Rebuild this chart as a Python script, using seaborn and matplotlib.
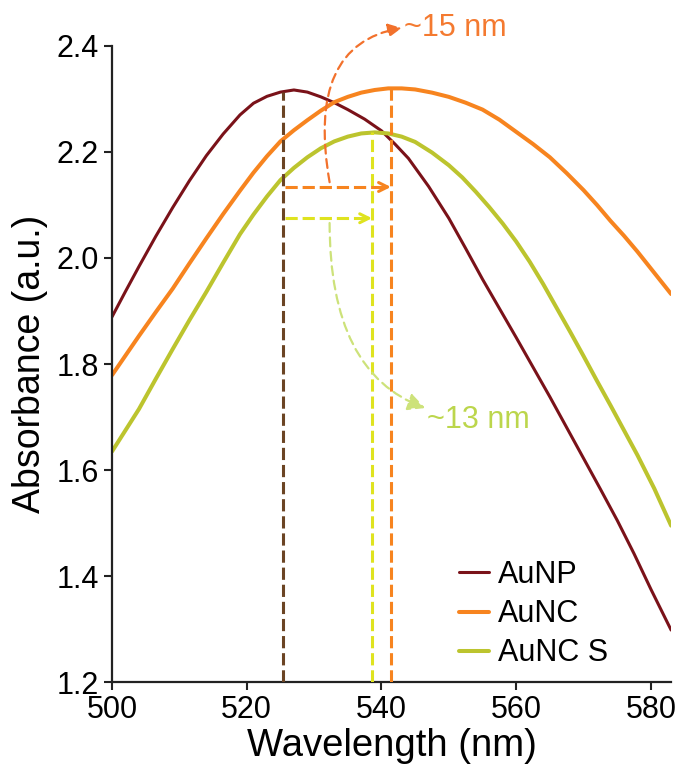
import numpy as np
import pandas as pd
import seaborn as sns
import matplotlib.pyplot as plt

sns.set_style("ticks")
plt.rcParams['font.family'] = ['Liberation Sans', 'DejaVu Sans']

# Spectra (wavelength in nm, absorbance in a.u.)
aunp_nm = [500, 502, 504, 506.5, 509, 511.5, 514, 516.5, 519, 521, 523, 525,
           527, 529, 531, 533, 535, 537.5, 540, 542, 544, 547, 550, 552.5,
           555, 557.5, 560, 562.5, 565, 567.5, 570, 572.5, 575, 577.5, 580, 583]
aunp_abs = [1.889, 1.937, 1.984, 2.041, 2.095, 2.146, 2.193, 2.234, 2.270,
            2.292, 2.305, 2.313, 2.317, 2.313, 2.304, 2.293, 2.280, 2.262,
            2.240, 2.215, 2.188, 2.135, 2.075, 2.018, 1.960, 1.905, 1.850,
            1.794, 1.738, 1.680, 1.622, 1.564, 1.505, 1.442, 1.375, 1.298]

aunc_nm = [500, 502, 504, 506.5, 509, 511.5, 514, 516.5, 519, 521, 523, 525,
           527, 529, 531, 533, 535, 537, 539, 541, 543, 545, 547.5, 550, 552.5,
           555, 557.5, 560, 562.5, 565, 567.5, 570, 572, 574, 576, 578, 580.5, 583]
aunc_abs = [1.779, 1.816, 1.853, 1.898, 1.942, 1.990, 2.037, 2.083, 2.127,
            2.161, 2.192, 2.220, 2.241, 2.260, 2.278, 2.294, 2.304, 2.312,
            2.317, 2.320, 2.320, 2.318, 2.312, 2.304, 2.293, 2.280, 2.261,
            2.238, 2.215, 2.190, 2.160, 2.128, 2.100, 2.070, 2.042, 2.012,
            1.972, 1.932]

auncs_nm = [500, 502, 504, 506.5, 509, 511.5, 514, 516.5, 519, 521, 523, 525,
            527, 529, 531, 533, 535, 537, 539, 541, 543, 545, 547.5, 550, 552,
            554, 556, 558, 560, 562, 564, 566, 568, 570, 572, 574, 576, 578,
            580.5, 583]
auncs_abs = [1.635, 1.675, 1.715, 1.772, 1.828, 1.883, 1.936, 1.991, 2.045,
             2.082, 2.116, 2.147, 2.170, 2.190, 2.207, 2.220, 2.229, 2.235,
             2.237, 2.235, 2.229, 2.219, 2.199, 2.175, 2.152, 2.125, 2.096,
             2.065, 2.031, 1.993, 1.951, 1.906, 1.861, 1.815, 1.768, 1.722,
             1.675, 1.628, 1.565, 1.495]

samples = ['AuNP', 'AuNC', 'AuNC S']
line_colors = ['#7a1219', '#f7841f', '#bcc42e']
line_widths = [2.2, 2.9, 2.9]

# peak positions marked with dashed drop lines
peak_nm = [525.4, 541.4, 538.6]
peak_abs = [2.313, 2.320, 2.237]
peak_colors = ['#6b4424', '#f7841f', '#dfe31f']

# shift arrows
shift_y = [2.134, 2.075]
shift_colors = ['#f7841f', '#dfe31f']
shift_labels = ['~15 nm', '~13 nm']

df = pd.concat([
    pd.DataFrame({'Wavelength': x, 'Absorbance': y, 'Sample': s})
    for x, y, s in zip([aunp_nm, aunc_nm, auncs_nm],
                       [aunp_abs, aunc_abs, auncs_abs], samples)
])

fig = plt.figure(figsize=(6.81, 7.69), dpi=100)
ax = fig.add_axes([0.1645, 0.1131, 0.821, 0.8271])

sns.lineplot(data=df, x='Wavelength', y='Absorbance', hue='Sample',
             palette=dict(zip(samples, line_colors)), linewidth=2.4,
             estimator=None, ax=ax)
for ln, w in zip(ax.lines, line_widths):
    ln.set_linewidth(w)
    ln.set_solid_joinstyle('round')

dash = (0, (4, 1.6))
for x, top, c in zip(peak_nm, peak_abs, peak_colors):
    ax.plot([x, x], [1.2, top], color=c, lw=2.2, linestyle=dash,
            solid_capstyle='butt', zorder=3)

# horizontal shift arrows from the AuNP peak to the AuNC / AuNC S peaks
for y, x_end, c in zip(shift_y, [peak_nm[1], peak_nm[2]], shift_colors):
    ax.plot([peak_nm[0] + 0.3, x_end - 0.8], [y, y], color=c, lw=2.2,
            linestyle=dash, zorder=3)
    ax.annotate('', xy=(x_end, y), xytext=(x_end - 1.2, y),
                arrowprops=dict(arrowstyle='->', color=c, lw=2.2,
                                mutation_scale=16, shrinkA=0, shrinkB=0))

# curved arrows to the labels
ax.annotate('', xy=(543.0, 2.434), xytext=(532.3, 2.143),
            arrowprops=dict(arrowstyle='-|>', color='#f2712c', lw=1.6,
                            linestyle=(0, (4, 2.5)), mutation_scale=20,
                            shrinkA=0, shrinkB=0,
                            connectionstyle='angle3,angleA=100,angleB=10'),
            annotation_clip=False)
ax.text(543.4, 2.434, shift_labels[0], color='#f47a30', fontsize=22,
        ha='left', va='center', clip_on=False)

ax.annotate('', xy=(546.5, 1.717), xytext=(532.3, 2.066),
            arrowprops=dict(arrowstyle='-|>', color='#cde27a', lw=1.6,
                            linestyle=(0, (4, 2.5)), mutation_scale=26,
                            shrinkA=0, shrinkB=0,
                            connectionstyle='angle3,angleA=90,angleB=-20'))
ax.text(546.8, 1.695, shift_labels[1], color='#bcd64c', fontsize=22,
        ha='left', va='center')

ax.set_xlim(500, 583)
ax.set_ylim(1.2, 2.4)
ax.set_xticks([500, 520, 540, 560, 580])
ax.set_yticks([1.2, 1.4, 1.6, 1.8, 2.0, 2.2, 2.4])
ax.set_yticklabels(['1.2', '1.4', '1.6', '1.8', '2.0', '2.2', '2.4'])
ax.tick_params(labelsize=22, width=1.5, length=6, color='#222222',
               labelcolor='black')
for sp in ['left', 'bottom']:
    ax.spines[sp].set_linewidth(1.6)
    ax.spines[sp].set_color('#222222')
sns.despine(ax=ax)

ax.set_xlabel('Wavelength (nm)', fontsize=27.5, labelpad=2, color='black')
ax.set_ylabel('Absorbance (a.u.)', fontsize=27, labelpad=6, color='black')

handles, labels = ax.get_legend_handles_labels()
leg = ax.legend(handles, labels, loc='upper left',
                bbox_to_anchor=(0.598, 0.211), frameon=False, fontsize=22,
                handlelength=1.0, handletextpad=0.3, labelspacing=0.3,
                borderaxespad=0, labelcolor='black')
for h, w in zip(leg.get_lines(), line_widths):
    h.set_linewidth(w)

fig.savefig('out.png', dpi=100)
